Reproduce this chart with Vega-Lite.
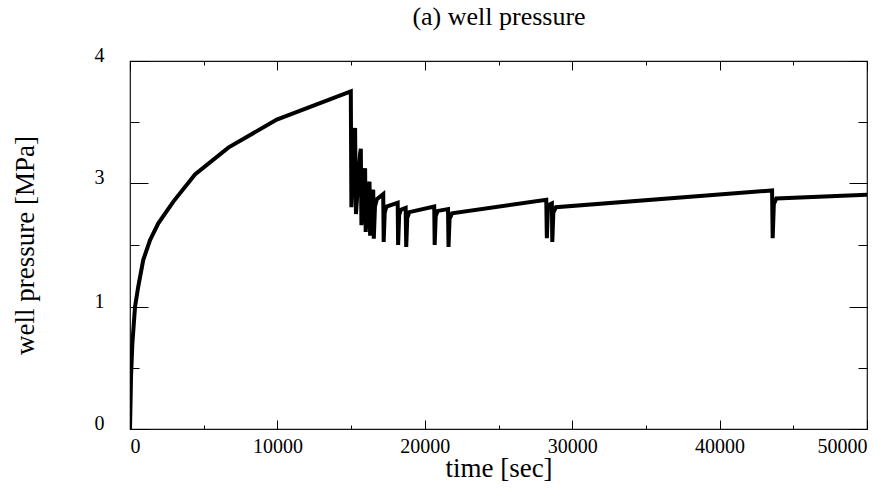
{
  "$schema": "https://vega.github.io/schema/vega-lite/v6.json",
  "width": 737,
  "height": 368,
  "autosize": {"type": "none"},
  "padding": {"left": 130, "top": 61, "right": 28, "bottom": 69},
  "background": "white",
  "config": {
    "view": {"stroke": "#111", "strokeWidth": 1.2},
    "axis": {"grid": false, "domain": false, "labelFont": "Liberation Serif", "titleFont": "Liberation Serif", "labelColor": "black", "titleColor": "black", "tickColor": "black", "titleFontWeight": "normal", "labelFontSize": 20, "titleFontSize": 27}
  },
  "data": {"values": [
    {"t": 0, "p": 0}, {"t": 40, "p": 0.24}, {"t": 70, "p": 0.43}, {"t": 160, "p": 0.70}, {"t": 340, "p": 1.00},
    {"t": 560, "p": 1.33}, {"t": 900, "p": 1.76}, {"t": 1360, "p": 2.08}, {"t": 1920, "p": 2.35}, {"t": 2940, "p": 2.70},
    {"t": 4410, "p": 3.07}, {"t": 6670, "p": 3.29}, {"t": 9960, "p": 3.52}, {"t": 14980, "p": 3.75},
    {"t": 15020, "p": 2.61}, {"t": 15210, "p": 3.40}, {"t": 15270, "p": 3.45},
    {"t": 15330, "p": 2.50}, {"t": 15600, "p": 3.23}, {"t": 15660, "p": 3.28},
    {"t": 15700, "p": 2.32}, {"t": 15890, "p": 3.08}, {"t": 15950, "p": 3.12},
    {"t": 15990, "p": 2.21}, {"t": 16190, "p": 2.97}, {"t": 16250, "p": 3.01},
    {"t": 16290, "p": 2.15}, {"t": 16440, "p": 2.85}, {"t": 16500, "p": 2.89},
    {"t": 16540, "p": 2.10}, {"t": 16620, "p": 2.62}, {"t": 16750, "p": 2.74}, {"t": 17180, "p": 2.82},
    {"t": 17210, "p": 2.05}, {"t": 17280, "p": 2.52}, {"t": 17400, "p": 2.62}, {"t": 18160, "p": 2.68},
    {"t": 18190, "p": 2.00}, {"t": 18260, "p": 2.48}, {"t": 18380, "p": 2.57}, {"t": 18700, "p": 2.60},
    {"t": 18740, "p": 1.97}, {"t": 18810, "p": 2.44}, {"t": 18950, "p": 2.53}, {"t": 20640, "p": 2.62},
    {"t": 20670, "p": 2.00}, {"t": 20740, "p": 2.47}, {"t": 20880, "p": 2.55}, {"t": 21575, "p": 2.58},
    {"t": 21610, "p": 1.97}, {"t": 21680, "p": 2.42}, {"t": 21850, "p": 2.51}, {"t": 28240, "p": 2.73},
    {"t": 28280, "p": 2.11}, {"t": 28350, "p": 2.58}, {"t": 28450, "p": 2.65}, {"t": 28620, "p": 2.67},
    {"t": 28650, "p": 2.05}, {"t": 28720, "p": 2.52}, {"t": 28900, "p": 2.61}, {"t": 43560, "p": 2.88},
    {"t": 43600, "p": 2.11}, {"t": 43680, "p": 2.66}, {"t": 43850, "p": 2.75}, {"t": 50000, "p": 2.81}
  ]},
  "resolve": {"axis": {"x": "independent", "y": "independent"}},
  "layer": [
    {
      "mark": {"type": "line", "color": "black", "strokeWidth": 4, "clip": true},
      "encoding": {
        "x": {"field": "t", "type": "quantitative", "scale": {"domain": [0, 50000], "nice": false},
              "axis": {"orient": "bottom", "title": "time [sec]", "values": [0, 10000, 20000, 30000, 40000, 50000], "format": "d", "ticks": false, "labelPadding": 7, "labelBaseline": "top", "titleX": 368.5, "titleY": 39, "titleBaseline": "middle", "titleAlign": "center"}},
        "y": {"field": "p", "type": "quantitative", "scale": {"domain": [0, 1, 3, 4], "range": [368, 246, 122, 0], "nice": false, "zero": false},
              "axis": {"orient": "left", "title": "well pressure [MPa]", "values": [0, 1, 3, 4], "ticks": false, "labelPadding": 26, "labelBaseline": "alphabetic", "labelAlign": "right", "titleX": -105, "titleY": 184, "titleAngle": -90, "titleBaseline": "middle", "titleAlign": "center"}}
      }
    },
    {
      "mark": {"type": "line", "opacity": 0},
      "encoding": {
        "x": {"field": "t", "type": "quantitative", "axis": {"orient": "bottom", "title": null, "labels": false, "values": [0, 10000, 20000, 30000, 40000, 50000], "tickSize": -9, "tickWidth": 1}},
        "y": {"field": "p", "type": "quantitative", "axis": {"orient": "left", "title": null, "labels": false, "values": [0, 1, 3, 4], "tickSize": -18, "tickWidth": 1}}
      }
    },
    {
      "mark": {"type": "line", "opacity": 0},
      "encoding": {
        "x": {"field": "t", "type": "quantitative", "axis": {"orient": "bottom", "title": null, "labels": false, "values": [5000, 15000, 25000, 35000, 45000], "tickSize": -4, "tickWidth": 1}},
        "y": {"field": "p", "type": "quantitative", "axis": {"orient": "left", "title": null, "labels": false, "values": [0.5, 2, 3.5], "tickSize": -9, "tickWidth": 1}}
      }
    },
    {
      "mark": {"type": "line", "opacity": 0},
      "encoding": {
        "x": {"field": "t", "type": "quantitative", "axis": {"orient": "top", "title": "(a) well pressure", "titleFontSize": 26, "titleX": 368.5, "titleY": -37, "titleBaseline": "alphabetic", "titleAlign": "center", "titleAngle": 0, "labels": false, "values": [0, 10000, 20000, 30000, 40000, 50000], "tickSize": -9, "tickWidth": 1}},
        "y": {"field": "p", "type": "quantitative", "axis": {"orient": "right", "title": null, "labels": false, "values": [0, 1, 3, 4], "tickSize": -18, "tickWidth": 1}}
      }
    },
    {
      "mark": {"type": "line", "opacity": 0},
      "encoding": {
        "x": {"field": "t", "type": "quantitative", "axis": {"orient": "top", "title": null, "labels": false, "values": [5000, 15000, 25000, 35000, 45000], "tickSize": -4, "tickWidth": 1}},
        "y": {"field": "p", "type": "quantitative", "axis": {"orient": "right", "title": null, "labels": false, "values": [0.5, 2, 3.5], "tickSize": -9, "tickWidth": 1}}
      }
    }
  ]
}
